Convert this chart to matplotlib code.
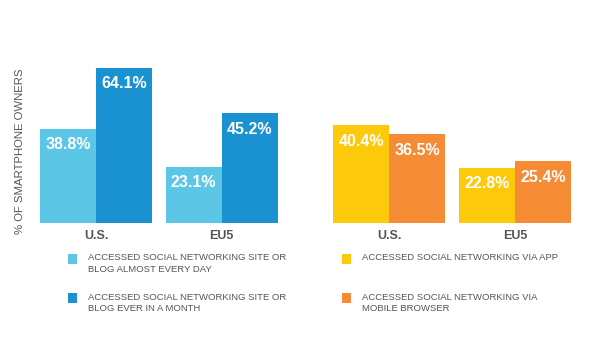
import matplotlib
matplotlib.use("Agg")
import matplotlib.pyplot as plt
from matplotlib.patches import Rectangle

regions = ["U.S.", "EU5"]
site_daily = [38.8, 23.1]
site_monthly = [64.1, 45.2]
via_app = [40.4, 22.8]
via_browser = [36.5, 25.4]

legend_labels = [
    "ACCESSED SOCIAL NETWORKING SITE OR\nBLOG ALMOST EVERY DAY",
    "ACCESSED SOCIAL NETWORKING SITE OR\nBLOG EVER IN A MONTH",
    "ACCESSED SOCIAL NETWORKING VIA APP",
    "ACCESSED SOCIAL NETWORKING VIA\nMOBILE BROWSER",
]

c_light = "#5bc6e6"
c_dark = "#1a91d1"
c_yellow = "#fdca0b"
c_orange = "#f58b35"
txt = "#555555"

plt.rcParams['font.family'] = ['Liberation Sans', 'DejaVu Sans']

fig = plt.figure(figsize=(6, 3.58), dpi=100)
W, H = 600, 358

def px_axes(x0, x1, ybase, ytop):
    return fig.add_axes([x0 / W, (H - ybase) / H, (x1 - x0) / W, (ybase - ytop) / H])

ybase = 222.7
ytop = ybase - 70 * 2.418
ax1 = px_axes(40, 277.7, ybase, ytop)
ax2 = px_axes(333.3, 571, ybase, ytop)

pos = [0, 2.24]

def panel(ax, a, b, ca, cb):
    for i, p in enumerate(pos):
        for off, v, c in [(-0.5, a[i], ca), (0.5, b[i], cb)]:
            ax.bar(p + off, v, width=1, color=c, linewidth=0)
            ax.annotate(f"{v}%", (p + off, v), xytext=(0, -16), textcoords="offset pixels",
                        ha="center", va="center", color="white", fontsize=11.5, fontweight="bold")
    ax.set_xlim(-1.0, 3.24)
    ax.set_ylim(0, 70)
    ax.set_xticks(pos)
    ax.set_xticklabels(regions, fontsize=9, fontweight="bold", color=txt)
    ax.tick_params(axis="x", length=0, pad=5)
    ax.set_yticks([])
    for s in ax.spines.values():
        s.set_visible(False)

panel(ax1, site_daily, site_monthly, c_light, c_dark)
panel(ax2, via_app, via_browser, c_yellow, c_orange)

fig.text(20 / W, 1 - 151 / H, "% OF SMARTPHONE OWNERS", rotation=90, ha="center", va="center",
         fontsize=8.2, color=txt)

# legend
colors = [c_light, c_dark, c_yellow, c_orange]
legend_pos = [(68, 254), (68, 293), (341.7, 254), (341.7, 293)]
for lab, c, (lx, ly) in zip(legend_labels, colors, legend_pos):
    fig.patches.append(Rectangle((lx / W, 1 - (ly + 10) / H), 9 / W, 10 / H,
                                 transform=fig.transFigure, color=c, linewidth=0))
    fig.text((lx + 20) / W, 1 - (ly - 0.5) / H, lab, ha="left", va="top", fontsize=6.8,
             color=txt, linespacing=1.3)

fig.savefig("out.png", dpi=100, facecolor="white")
